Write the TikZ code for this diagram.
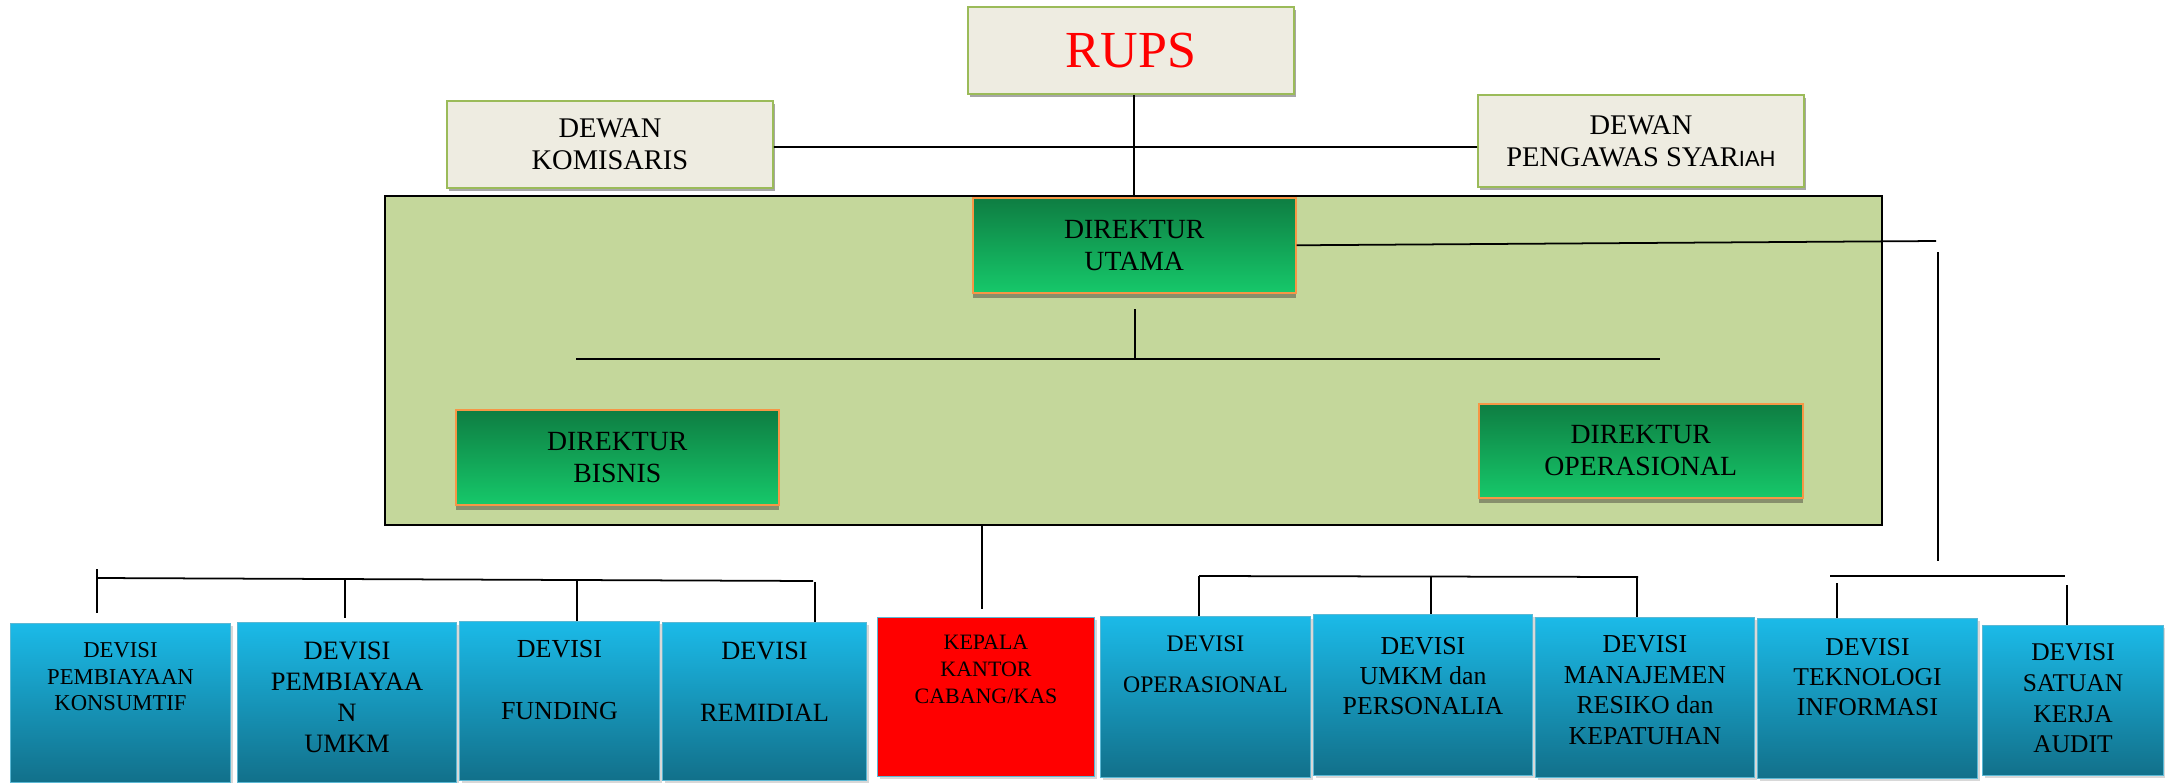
\documentclass[tikz,border=0pt]{standalone}
\usepackage{fontspec}
\setmainfont{Liberation Serif}
\newfontfamily\sansiah{Liberation Sans}
\usetikzlibrary{shadows}

\definecolor{krem}{HTML}{EEECE1}
\definecolor{hijaumuda}{HTML}{9BBB59}
\definecolor{panelhijau}{HTML}{C4D79B}
\definecolor{hijautua}{HTML}{0E7D42}
\definecolor{hijauterang}{HTML}{16C86A}
\definecolor{oranye}{HTML}{F79646}
\definecolor{birutop}{HTML}{1BBAE8}
\definecolor{birubawah}{HTML}{12708A}
\definecolor{birugaris}{HTML}{5BB8D4}
\definecolor{bayang}{HTML}{878F6C}

\tikzset{
  dewanbox/.style={draw=hijaumuda, line width=1.1pt, fill=krem, anchor=north west,
    align=center, inner sep=0pt,
    drop shadow={shadow xshift=1pt, shadow yshift=-2pt, fill=black!35, opacity=1}},
  direkbox/.style={draw=oranye, line width=0.9pt, top color=hijautua,
    bottom color=hijauterang, anchor=north west, align=center, inner sep=0pt,
    font=\fontsize{15.8}{18.2}\selectfont,
    drop shadow={shadow xshift=0pt, shadow yshift=-2.8pt, fill=bayang, opacity=1}},
  devbox/.style={draw=birugaris, line width=0.6pt, top color=birutop,
    bottom color=birubawah, anchor=north west, inner sep=0pt,
    drop shadow={shadow xshift=1.2pt, shadow yshift=-1.2pt, fill=black!30, opacity=.5}},
  kantorbox/.style={draw=birugaris, line width=0.6pt, fill=red, anchor=north west,
    inner sep=0pt,
    drop shadow={shadow xshift=1.2pt, shadow yshift=-1.2pt, fill=black!30, opacity=.5}},
  devtext/.style={anchor=north, align=center, inner sep=0pt, text=black},
  garis/.style={line width=1pt, black},
}

\begin{document}
\begin{tikzpicture}[x=0.02cm, y=-0.02cm]
	\useasboundingbox (0,0) rectangle (2165,782);
	
	%Panel Direksi
	\node[draw=black, line width=1.1pt, fill=panelhijau, anchor=north west, inner sep=0pt,
		minimum width=29.94cm, minimum height=6.58cm] (panel) at (384,195) {};
	
	%RUPS
	\node[dewanbox, minimum width=6.52cm, minimum height=1.74cm, text=red,
		font=\fontsize{29.6}{34}\selectfont] (rups) at (967,6) {RUPS};
	
	%Dewan
	\node[dewanbox, minimum width=6.52cm, minimum height=1.74cm,
		font=\fontsize{16.2}{18.2}\selectfont] (dkom) at (446,100) {DEWAN\\KOMISARIS};
	\node[dewanbox, minimum width=6.52cm, minimum height=1.84cm,
		font=\fontsize{16.2}{18.2}\selectfont] (dsyar) at (1477,94)
		{DEWAN\\PENGAWAS SYAR{\sansiah\fontsize{12.5}{18.2}\selectfont IAH}};
	
	%Direksi
	\node[direkbox, minimum width=6.46cm, minimum height=1.9cm] (dutama) at (972,197) {DIREKTUR\\UTAMA};
	\node[direkbox, minimum width=6.46cm, minimum height=1.9cm] (dbisnis) at (455,409) {DIREKTUR\\BISNIS};
	\node[direkbox, minimum width=6.48cm, minimum height=1.88cm] (doper) at (1478,403) {DIREKTUR\\OPERASIONAL};
	
	%Devisi bisnis
	\node[devbox, minimum width=4.4cm, minimum height=3.18cm,
		label={[devtext, yshift=-0.38cm, font=\fontsize{12.9}{15.2}\selectfont]north:DEVISI\\PEMBIAYAAN\\KONSUMTIF}]
		(dkons) at (10,623) {};
	\node[devbox, minimum width=4.38cm, minimum height=3.2cm,
		label={[devtext, yshift=-0.4cm, font=\fontsize{15.1}{17.5}\selectfont]north:DEVISI\\PEMBIAYAA\\N\\UMKM}]
		(dumkm) at (237,622) {};
	\node[devbox, minimum width=4.0cm, minimum height=3.18cm,
		label={[devtext, yshift=-0.38cm, font=\fontsize{14.8}{17.5}\selectfont]north:DEVISI\\[17.5pt]FUNDING}]
		(dfund) at (459,621) {};
	\node[devbox, minimum width=4.08cm, minimum height=3.16cm,
		label={[devtext, yshift=-0.4cm, font=\fontsize{15}{17.5}\selectfont]north:DEVISI\\[17.5pt]REMIDIAL}]
		(drem) at (662,622) {};
	
	%Kantor cabang
	\node[kantorbox, minimum width=4.34cm, minimum height=3.18cm,
		label={[devtext, yshift=-0.36cm, font=\fontsize{12.5}{15.4}\selectfont]north:KEPALA\\KANTOR\\CABANG/KAS}]
		(kepala) at (877,617) {};
	
	%Devisi operasional
	\node[devbox, minimum width=4.2cm, minimum height=3.22cm,
		label={[devtext, yshift=-0.38cm, font=\fontsize{13.5}{15.4}\selectfont]north:DEVISI\\[8pt]OPERASIONAL}]
		(dops) at (1100,616) {};
	\node[devbox, minimum width=4.38cm, minimum height=3.22cm,
		label={[devtext, yshift=-0.46cm, font=\fontsize{14.7}{17.1}\selectfont]north:DEVISI\\UMKM dan\\PERSONALIA}]
		(dpers) at (1313,614) {};
	\node[devbox, minimum width=4.38cm, minimum height=3.2cm,
		label={[devtext, yshift=-0.36cm, font=\fontsize{14.7}{17.4}\selectfont]north:DEVISI\\MANAJEMEN\\RESIKO dan\\KEPATUHAN}]
		(dres) at (1535,617) {};
	
	%Devisi langsung ke direktur utama
	\node[devbox, minimum width=4.4cm, minimum height=3.2cm,
		label={[devtext, yshift=-0.4cm, font=\fontsize{14.6}{17.1}\selectfont]north:DEVISI\\TEKNOLOGI\\INFORMASI}]
		(dtek) at (1757,618) {};
	\node[devbox, minimum width=3.62cm, minimum height=3.0cm,
		label={[devtext, yshift=-0.36cm, font=\fontsize{14.5}{17.6}\selectfont]north:DEVISI\\SATUAN\\KERJA\\AUDIT}]
		(daudit) at (1982,625) {};
	
	%Garis atas
	\draw[garis] (dutama.north |- rups.south) -- (dutama.north);
	\draw[garis] ([yshift=-1.5pt]dkom.east) -- ([yshift=-3.5pt]dsyar.west);
	
	\coordinate (ujungK) at (1936,241);
	\coordinate (kananA) at (1938,252);
	\coordinate (kananB) at (1938,561);
	\draw[garis] (dutama.east) -- (ujungK);
	\draw[garis] (kananA) -- (kananB);
	
	\coordinate (utamaB) at (1135,309);
	\coordinate (busD) at (1135,359);
	\coordinate (busDa) at (576,359);
	\coordinate (busDb) at (1660,359);
	\draw[garis] (utamaB) -- (busD);
	\draw[garis] (busDa) -- (busDb);
	
	%Garis ke kantor cabang
	\coordinate (kepalaA) at (982,609);
	\draw[garis] (panel.south -| kepalaA) -- (kepalaA);
	
	%Garis devisi bisnis
	\coordinate (busLa) at (97,578);
	\coordinate (busLb) at (813,581);
	\draw[garis] (busLa) -- (busLb);
	\coordinate (tikKons) at (97,569);
	\coordinate (tikUmkm) at (345,578);
	\coordinate (tikFund) at (577,580);
	\coordinate (tikRem) at (815,582);
	\draw[garis, shorten >=5.7pt] (tikKons) -- (tikKons |- dkons.north);
	\draw[garis, shorten >=2.3pt] (tikUmkm) -- (tikUmkm |- dumkm.north);
	\draw[garis] (tikFund) -- (tikFund |- dfund.north);
	\draw[garis] (tikRem) -- (tikRem |- drem.north);
	
	%Garis devisi operasional
	\coordinate (busMa) at (1199,576);
	\coordinate (busMb) at (1638,577);
	\draw[garis] (busMa) -- (busMb);
	\coordinate (tikOper) at (1199,576);
	\coordinate (tikPers) at (1431,577);
	\coordinate (tikRes) at (1637,577);
	\draw[garis] (tikOper) -- (tikOper |- dops.north);
	\draw[garis] (tikPers) -- (tikPers |- dpers.north);
	\draw[garis] (tikRes) -- (tikRes |- dres.north);
	
	%Garis devisi TI dan audit
	\coordinate (busKa) at (1830,576);
	\coordinate (busKb) at (2065,576);
	\draw[garis] (busKa) -- (busKb);
	\coordinate (tikTek) at (1837,583);
	\coordinate (tikAud) at (2067,585);
	\draw[garis] (tikTek) -- (tikTek |- dtek.north);
	\draw[garis] (tikAud) -- (tikAud |- daudit.north);
\end{tikzpicture}
\end{document}
